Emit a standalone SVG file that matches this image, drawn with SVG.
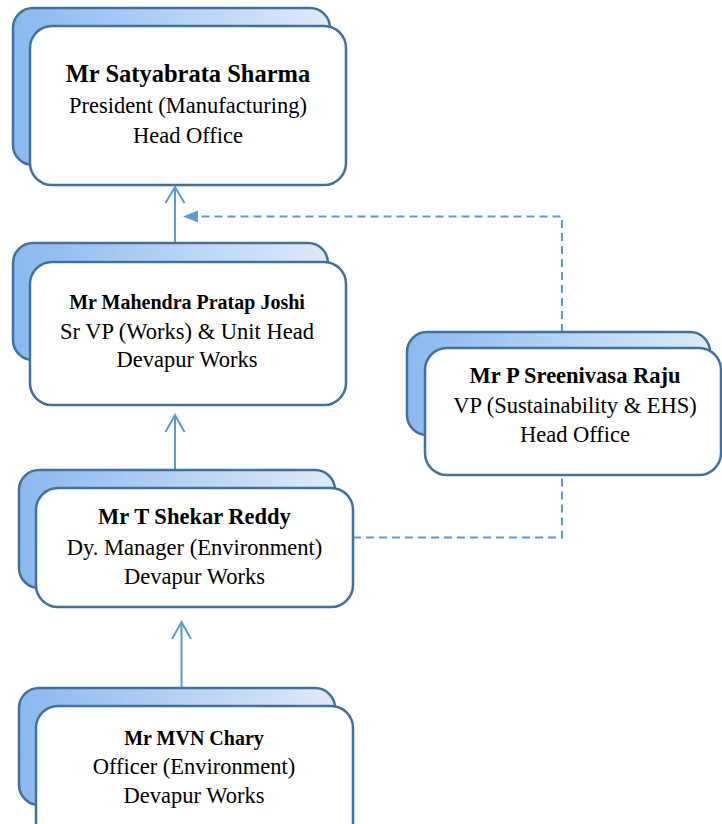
<svg xmlns="http://www.w3.org/2000/svg" width="722" height="824" viewBox="0 0 722 824">
<defs>
<linearGradient id="g" x1="0" y1="0" x2="1" y2="0">
<stop offset="0" stop-color="#8ab8ef"/>
<stop offset="1" stop-color="#dfeaf9"/>
</linearGradient>
</defs>
<style>
.back{fill:url(#g);stroke:#41719c;stroke-width:2.5}
.front{fill:#fff;stroke:#41719c;stroke-width:2.5}
.b{font-family:"Liberation Serif","Times New Roman",serif;font-weight:bold;fill:#000;text-anchor:middle}
.r{font-family:"Liberation Serif","Times New Roman",serif;font-size:22.5px;fill:#000;text-anchor:middle}
.ln{fill:none;stroke:#5b9bd5;stroke-width:2}
.dash{fill:none;stroke:#5b9bd5;stroke-width:2;stroke-dasharray:8 5}
</style>
<g id="connectors">
<path class="ln" d="M175 243 V187 M165.5 203 L175 187 L184.5 203"/>
<path class="ln" d="M175 470 V415 M165.5 432 L175 415 L184.5 432"/>
<path class="ln" d="M181.5 688 V622 M172 639 L181.5 622 L191 639"/>
<path class="dash" d="M562 332 V216.5 H197"/>
<polygon points="183,216.5 198,210.5 198,222.5" fill="#5b9bd5"/>
<path class="dash" d="M353 537.5 H562 V476"/>
</g>
<g id="sharma">
<rect class="back" x="13" y="8" width="317" height="157" rx="20"/>
<rect class="front" x="30" y="26" width="316" height="159" rx="22"/>
<text class="b" x="188" y="82" font-size="24.5">Mr Satyabrata Sharma</text>
<text class="r" x="188" y="113">President (Manufacturing)</text>
<text class="r" x="188" y="143">Head Office</text>
</g>
<g id="joshi">
<rect class="back" x="13" y="243" width="315" height="117" rx="20"/>
<rect class="front" x="30" y="262" width="316" height="143" rx="22"/>
<text class="b" x="187" y="309" font-size="20">Mr Mahendra Pratap Joshi</text>
<text class="r" x="187" y="339">Sr VP (Works) &amp; Unit Head</text>
<text class="r" x="187" y="367">Devapur Works</text>
</g>
<g id="raju">
<rect class="back" x="407" y="332" width="303" height="103" rx="20"/>
<rect class="front" x="425" y="348" width="296" height="127" rx="22"/>
<text class="b" x="575" y="383" font-size="22.5">Mr P Sreenivasa Raju</text>
<text class="r" x="575" y="413">VP (Sustainability &amp; EHS)</text>
<text class="r" x="575" y="442">Head Office</text>
</g>
<g id="reddy">
<rect class="back" x="19" y="470" width="316" height="118" rx="20"/>
<rect class="front" x="36" y="488" width="317" height="119" rx="22"/>
<text class="b" x="194.5" y="524" font-size="22.5">Mr T Shekar Reddy</text>
<text class="r" x="194.5" y="555">Dy. Manager (Environment)</text>
<text class="r" x="194.5" y="584">Devapur Works</text>
</g>
<g id="chary">
<rect class="back" x="19" y="688" width="316" height="117" rx="20"/>
<rect class="front" x="36" y="706" width="317" height="140" rx="22"/>
<text class="b" x="194" y="745" font-size="20">Mr MVN Chary</text>
<text class="r" x="194" y="774">Officer (Environment)</text>
<text class="r" x="194" y="803">Devapur Works</text>
</g>
</svg>
